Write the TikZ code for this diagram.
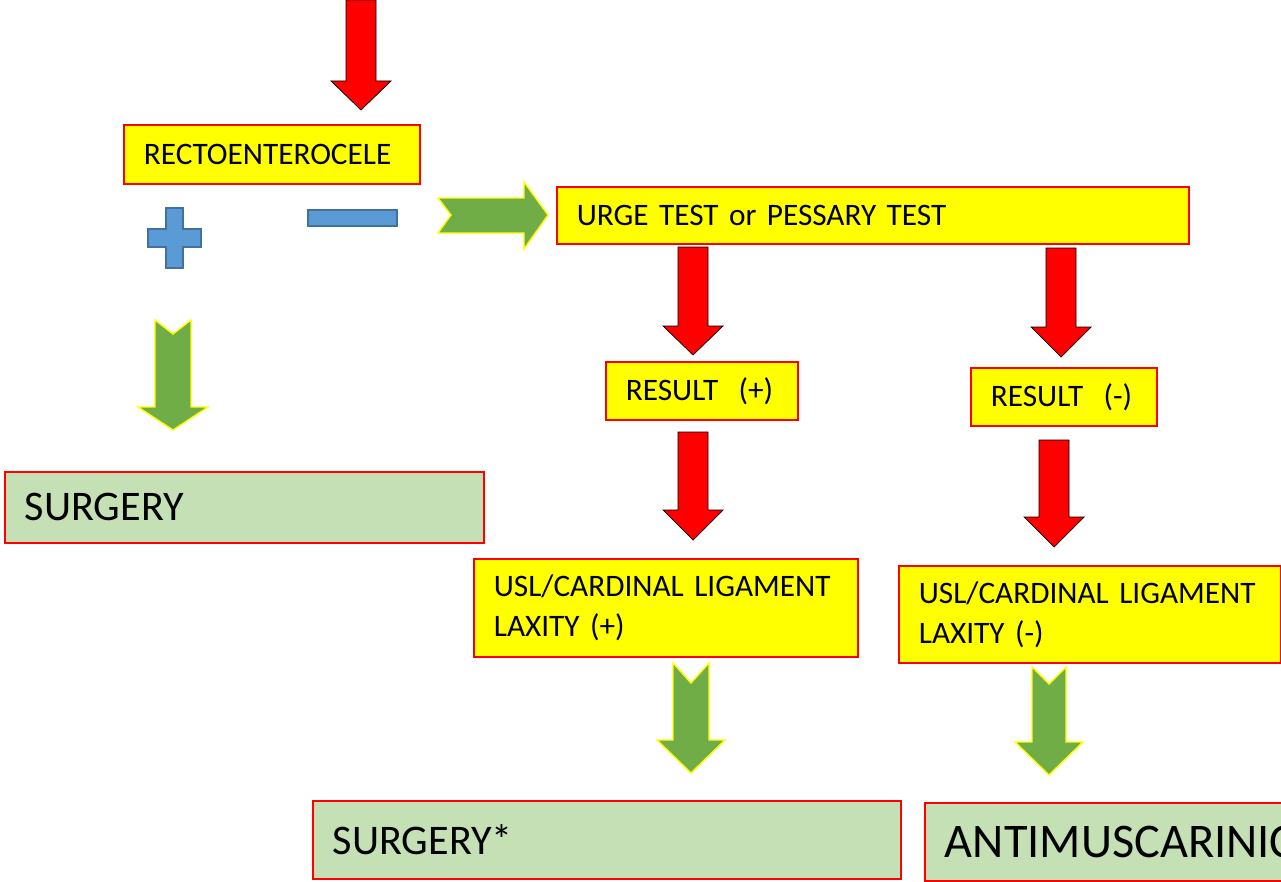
\documentclass[tikz,border=0pt]{standalone}
\usepackage{fontspec}
\setmainfont{Carlito}
\usepackage{xcolor}
\definecolor{boxYellow}{HTML}{FFFF00}
\definecolor{boxRed}{HTML}{FF0000}
\definecolor{boxGreen}{HTML}{C5E0B4}
\definecolor{arrowGreen}{HTML}{70AD47}
\definecolor{signBlue}{HTML}{5B9BD5}
\definecolor{signEdge}{HTML}{41719C}
\usepackage{tikz}
\usetikzlibrary{positioning,calc}
\tikzset{%
  stepBox/.style={%
    rectangle,
    draw=boxRed,
    fill=boxYellow,
    line width=1pt,
    anchor=north west,
    inner xsep=0.4cm,
    align=left,
    font=\fontsize{17.8}{22.7}\selectfont
  },
  resultBox/.style={%
    stepBox,
    inner xsep=0.3cm
  },
  therapyBox/.style={%
    stepBox,
    fill=boxGreen,
    font=\fontsize{24}{29}\selectfont
  },
  redArrow/.style={%
    fill=boxRed
  },
  greenArrow/.style={%
    fill=arrowGreen,
    draw=boxYellow,
    line width=0.8pt
  },
  signShape/.style={%
    fill=signBlue,
    draw=signEdge,
    line width=1.2pt
  }
}
% block arrow pointing down: style, centre x, top, notch, head base, tip, shaft half, head half
\newcommand{\downArrow}[8]{%
  \draw[#1] (#2-#7,-#3) -- (#2,-#4) -- (#2+#7,-#3) -- (#2+#7,-#5) -- (#2+#8,-#5)
    -- (#2,-#6) -- (#2-#8,-#5) -- (#2-#7,-#5) -- cycle;}

\begin{document}
\begin{tikzpicture}[x=0.02cm,y=0.02cm]
  \clip (0,0) rectangle (1281,-882);

  % boxes
  \node[stepBox, minimum height=1.18cm, text width=5.12cm] (recto) at (123,-124) {RECTOENTEROCELE};
  \node[stepBox, minimum height=1.14cm, text width=11.84cm] (urge) at (556,-186) {URGE TEST or PESSARY TEST};
  \node[resultBox, minimum height=1.16cm, text width=3.24cm] (resPos) at (605,-361) {\hspace{0.1cm}RESULT\hspace{0.65em}(+)};
  \node[resultBox, minimum height=1.16cm, text width=3.12cm] (resNeg) at (970,-367) {\hspace{0.1cm}RESULT\hspace{0.65em}(-)};
  \node[stepBox, minimum height=1.96cm, text width=6.88cm] (laxPos) at (473,-558) {USL/CARDINAL LIGAMENT\\LAXITY (+)};
  \node[stepBox, minimum height=1.94cm, text width=6.84cm] (laxNeg) at (898,-565) {USL/CARDINAL LIGAMENT\\LAXITY (-)};
  \node[therapyBox, minimum height=1.42cm, text width=8.78cm] (surgery) at (4,-471) {SURGERY};
  \node[therapyBox, minimum height=1.56cm, text width=10.96cm] (surgeryStar) at (312,-800) {SURGERY*};
  \node[therapyBox, minimum height=1.56cm, text width=7.2cm, font=\fontsize{27.5}{33}\selectfont] (antimusc) at (924,-802) {ANTIMUSCARINIC};

  % plus and minus
  \draw[signShape] (166,-208) -- (183,-208) -- (183,-229) -- (201,-229) -- (201,-247) -- (183,-247)
    -- (183,-268) -- (166,-268) -- (166,-247) -- (148,-247) -- (148,-229) -- (166,-229) -- cycle;
  \draw[signShape] (308,-210) rectangle (397,-226);

  % red arrows
  \downArrow{redArrow}{361}{0}{0}{81}{110}{15}{30}
  \downArrow{redArrow}{693}{247}{247}{326}{355}{15}{30}
  \downArrow{redArrow}{1061}{248}{248}{327}{357}{15}{30}
  \downArrow{redArrow}{693}{432}{432}{510}{540}{15}{30}
  \downArrow{redArrow}{1054}{440}{440}{517}{547}{15}{30}

  % green arrows
  \downArrow{greenArrow}{173}{320}{334}{407}{430}{18}{35}
  \downArrow{greenArrow}{691}{663}{683}{740}{773}{18}{34}
  \downArrow{greenArrow}{1049}{667}{684}{742}{775}{17}{34}
  \draw[greenArrow] (438,-198) -- (451,-215) -- (438,-233) -- (524,-233) -- (524,-249)
    -- (548,-215) -- (524,-182) -- (524,-198) -- cycle;
\end{tikzpicture}
\end{document}
